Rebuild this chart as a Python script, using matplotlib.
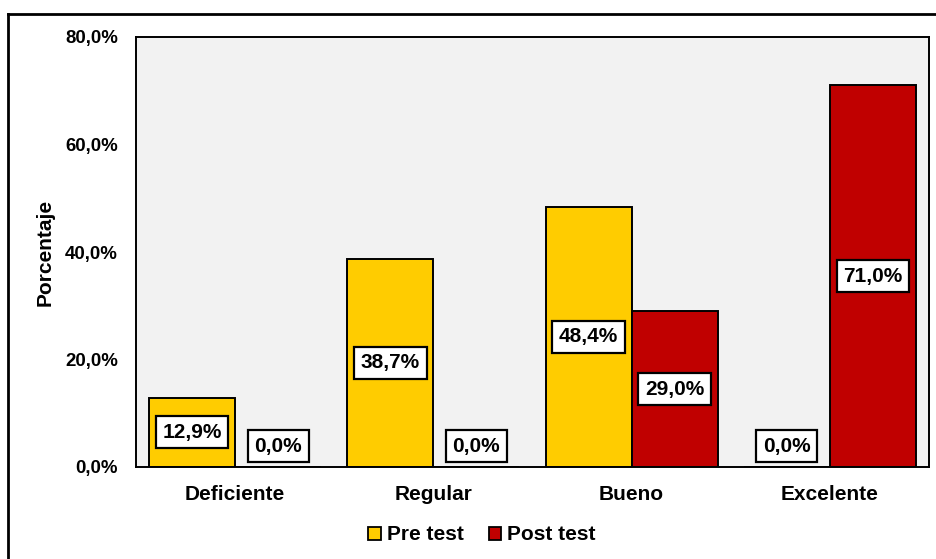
import matplotlib
matplotlib.use("Agg")
import matplotlib.pyplot as plt
from matplotlib.lines import Line2D
from matplotlib.patches import Patch
import numpy as np

categories = ["Deficiente", "Regular", "Bueno", "Excelente"]
pre_test = [12.9, 38.7, 48.4, 0.0]
post_test = [0.0, 0.0, 29.0, 71.0]
series_names = ["Pre test", "Post test"]
yticks = [0, 20, 40, 60, 80]

plt.rcParams['font.family'] = ['Liberation Sans', 'DejaVu Sans']
plt.rcParams['font.weight'] = 'bold'

fig = plt.figure(figsize=(9.37, 5.59), dpi=100)
ax = fig.add_axes([136/937, 1-467/559, (929-136)/937, (467-37)/559])
ax.set_facecolor('#F2F2F2')

x = np.arange(len(categories))
w = 86/198
colors = ['#FFCC00', '#C00000']
b1 = ax.bar(x - w/2, pre_test, w, color=colors[0], edgecolor='black', linewidth=1.4, zorder=2)
b2 = ax.bar(x + w/2, post_test, w, color=colors[1], edgecolor='black', linewidth=1.4, zorder=2)

def fmt(v):
    return f"{v:.1f}".replace('.', ',') + '%'

box = dict(boxstyle='square,pad=0.32', fc='white', ec='black', lw=1.6)
for bars, vals in ((b1, pre_test), (b2, post_test)):
    for r, v in zip(bars, vals):
        cx = r.get_x() + r.get_width()/2
        if v > 0:
            ax.annotate(fmt(v), (cx, v/2), ha='center', va='center', fontsize=15,
                        fontweight='bold', zorder=4, bbox=box)
        else:
            ax.annotate(fmt(v), (cx, 0), xytext=(0, 15), textcoords='offset points',
                        ha='center', va='center', fontsize=15, fontweight='bold', zorder=4,
                        bbox=box)

ax.set_xlim(-0.5, 3.5)
ax.set_ylim(0, 80)
ax.set_yticks(yticks)
ax.set_yticklabels([fmt(t) for t in yticks], fontsize=13.4, fontweight='bold')
ax.set_xticks(x)
ax.set_xticklabels(categories, fontsize=15, fontweight='bold')
ax.tick_params(axis='both', length=0)
ax.tick_params(axis='y', pad=13)
ax.tick_params(axis='x', pad=13)
for s in ax.spines.values():
    s.set_linewidth(1.4)
    s.set_color('black')

ax.set_ylabel('Porcentaje', fontsize=15, fontweight='bold')
ax.yaxis.set_label_coords((55-136)/793, 0.5)

handles = [Patch(facecolor=colors[0], edgecolor='black', lw=1.3),
           Patch(facecolor=colors[1], edgecolor='black', lw=1.3)]
fig.legend(handles, series_names, loc='center', bbox_to_anchor=(482/937, 1-535/559),
           ncol=2, frameon=False, handlelength=0.6, handleheight=0.6,
           handletextpad=0.3, columnspacing=1.2, prop={'weight': 'bold', 'size': 15})

fig.add_artist(Line2D([8/937, 8/937], [0, 1-14/559], transform=fig.transFigure, color='black', lw=2))
fig.add_artist(Line2D([8/937, 1], [1-14/559, 1-14/559], transform=fig.transFigure, color='black', lw=2))

fig.savefig('out.png', dpi=100)
